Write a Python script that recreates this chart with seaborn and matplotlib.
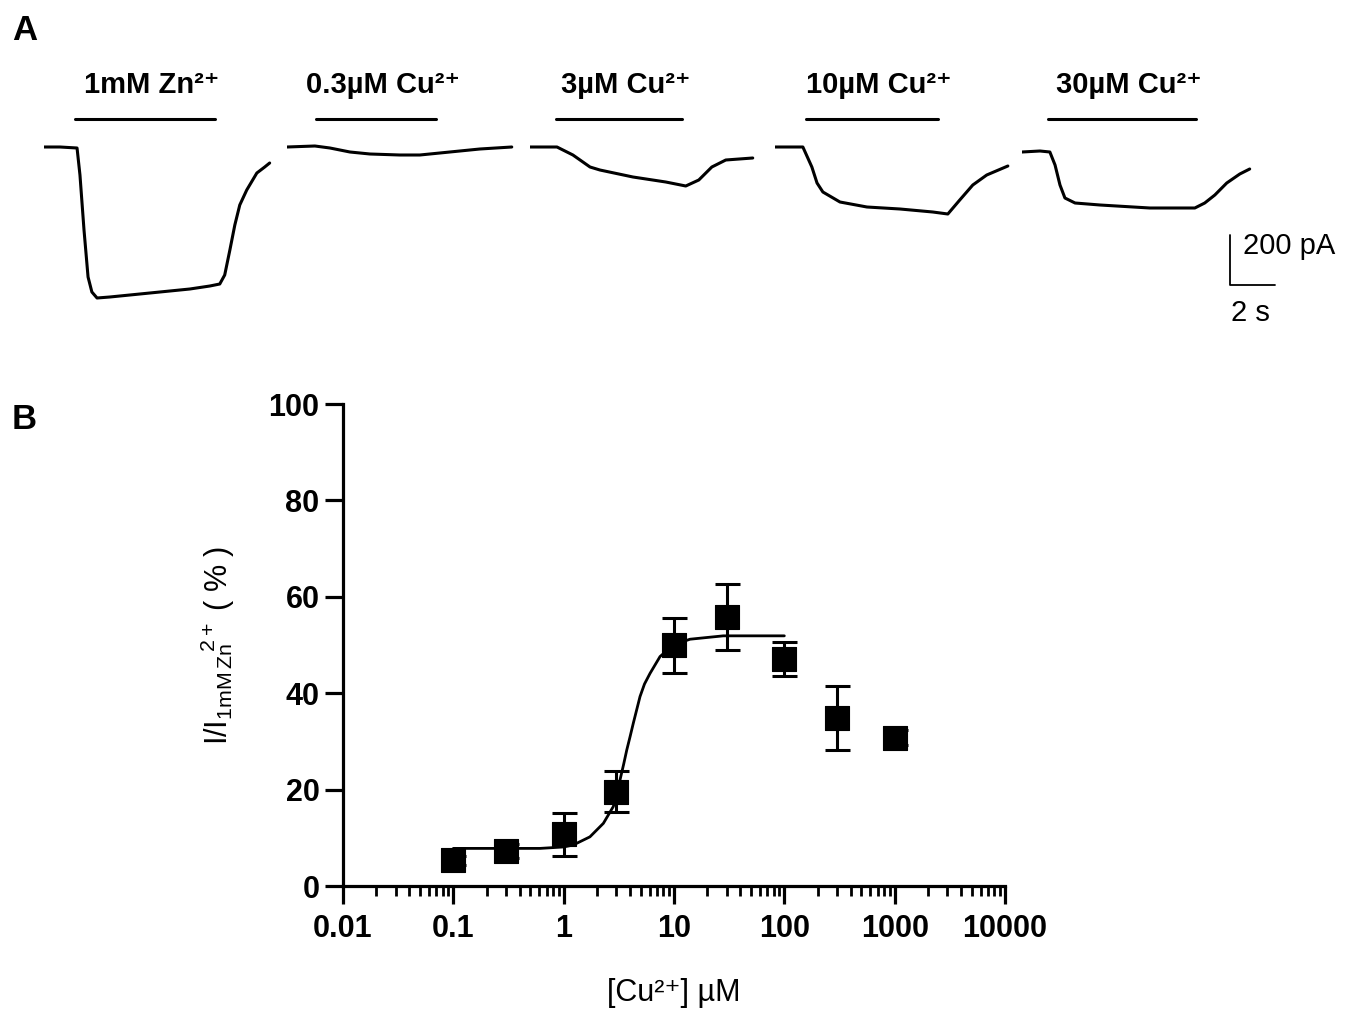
import numpy as np
import matplotlib
matplotlib.use("Agg")
import matplotlib.pyplot as plt
import seaborn as sns
from matplotlib.ticker import FixedLocator, LogLocator, NullFormatter

# ---------------- data ----------------
# panel A: current traces (time in s from trace start, current in pA from baseline)
trace_labels = ["1mM Zn²⁺", "0.3µM Cu²⁺", "3µM Cu²⁺", "10µM Cu²⁺", "30µM Cu²⁺"]

t_zn = [0, 0.71, 1.47, 1.6, 1.78, 1.96, 2.13, 2.36, 2.93, 3.82, 4.71, 5.6, 6.49, 7.38,
        7.82, 8.04, 8.27, 8.49, 8.71, 9.02, 9.47, 9.82, 10.04]
i_zn = [0, 0, -4, -112, -332, -520, -580, -604, -600, -592, -584, -576, -568, -556,
        -548, -512, -412, -312, -232, -172, -104, -80, -64]

t_cu03 = [0, 1.24, 1.91, 2.8, 3.69, 5.02, 5.91, 6.8, 7.69, 8.58, 10.0]
i_cu03 = [0, 4, -4, -20, -28, -32, -32, -24, -16, -8, 0]

t_cu3 = [0, 1.2, 1.91, 2.67, 3.11, 4.58, 6.04, 6.93, 7.51, 8.09, 8.71, 9.91]
i_cu3 = [0, 0, -32, -80, -92, -120, -140, -156, -132, -80, -52, -44]

t_cu10 = [0, 1.24, 1.64, 1.87, 2.13, 2.89, 4.09, 5.56, 7.02, 7.69, 8.22, 8.8, 9.42, 10.36]
i_cu10 = [0, 0, -80, -144, -180, -220, -240, -248, -260, -268, -212, -152, -112, -76]

t_cu30 = [0, 0.8, 1.24, 1.47, 1.69, 1.91, 2.36, 3.47, 5.69, 7.69, 8.13, 8.58, 9.11, 9.69, 10.13]
i_cu30 = [-20, -16, -20, -72, -152, -204, -224, -232, -244, -244, -224, -192, -144, -108, -88]

traces_t = [t_zn, t_cu03, t_cu3, t_cu10, t_cu30]
traces_i = [i_zn, i_cu03, i_cu3, i_cu10, i_cu30]

# application bars (s)
bar_start = [1.38, 1.29, 1.16, 1.38, 1.16]
bar_end = [7.6, 6.62, 6.76, 7.24, 7.73]

# panel B: concentration-response
conc = [0.1, 0.3, 1, 3, 10, 30, 100, 300, 1000]
resp = [5.3, 7.3, 10.7, 19.6, 49.9, 55.8, 47.1, 34.9, 30.8]
sem = [1.0, 1.5, 4.4, 4.3, 5.8, 6.8, 3.5, 6.6, 1.5]

# fitted curve
fit_x = [0.1, 0.3, 0.61, 1.0, 1.22, 1.73, 2.29, 2.82, 3.24, 3.5, 3.73, 4.0, 4.28, 4.92,
         5.4, 6.06, 7.47, 9.86, 13.96, 28, 100]
fit_y = [7.8, 7.8, 7.8, 8.1, 8.5, 10.2, 13.0, 16.5, 22.0, 25.3, 28.2, 31.0, 33.8, 39.3,
         41.9, 44.1, 47.6, 50.0, 51.2, 51.9, 51.9]

xtick_vals = [0.01, 0.1, 1, 10, 100, 1000, 10000]
xtick_labels = ["0.01", "0.1", "1", "10", "100", "1000", "10000"]
ytick_vals = [0, 20, 40, 60, 80, 100]

# ---------------- style ----------------
sns.set_style("ticks")
plt.rcParams["font.family"] = ["Liberation Sans", "DejaVu Sans"]
plt.rcParams["mathtext.fontset"] = "custom"
plt.rcParams["mathtext.rm"] = "Liberation Sans"
plt.rcParams["mathtext.it"] = "Liberation Sans:italic"
plt.rcParams["mathtext.bf"] = "Liberation Sans:bold"
plt.rcParams["mathtext.sf"] = "Liberation Sans"
for key in ["text.color", "axes.labelcolor", "xtick.color", "ytick.color", "axes.edgecolor"]:
    plt.rcParams[key] = "black"

W, H = 1368, 1015
fig = plt.figure(figsize=(W / 100, H / 100), dpi=100)

# ---------------- panel A ----------------
trace_left_px = [44, 287, 530, 775, 1022]
ax_w = 236 / W
ax_h = 225 / H
ax_b = 1 - 322 / H
for k in range(5):
    ax = fig.add_axes([trace_left_px[k] / W, ax_b, ax_w, ax_h])
    sns.lineplot(x=traces_t[k], y=traces_i[k], ax=ax, color="black", linewidth=2.2,
                 sort=False, estimator=None)
    ax.set_xlim(0, 10.5)
    ax.set_ylim(-700, 200)
    ax.axis("off")
    # drug application bar + label
    ax.plot([bar_start[k], bar_end[k]], [110, 110], color="black", linewidth=2.2,
            clip_on=False)
    ax.text((bar_start[k] + bar_end[k]) / 2 + 0.3, 248, trace_labels[k], ha="center",
            va="center", fontsize=21, fontweight="bold", clip_on=False)
    if k == 4:
        # scale bar: 2 s, 200 pA
        ax.plot([9.24, 9.24, 11.24], [-352, -552, -552], color="black", linewidth=1.3,
                clip_on=False)
        ax.text(9.85, -395, "200 pA", ha="left", va="center", fontsize=21, clip_on=False)
        ax.text(9.3, -665, "2 s", ha="left", va="center", fontsize=21, clip_on=False)

fig.text(12 / W, 1 - 30 / H, "A", fontsize=25, fontweight="bold", va="center")
fig.text(12 / W, 1 - 420 / H, "B", fontsize=25, fontweight="bold", va="center")

# ---------------- panel B ----------------
axb = fig.add_axes([343 / W, 1 - 886 / H, 662 / W, 482 / H])
axb.set_xscale("log")
sns.lineplot(x=fit_x, y=fit_y, ax=axb, color="black", linewidth=2.0, sort=False,
             estimator=None, zorder=2)
axb.errorbar(conc, resp, yerr=sem, fmt="none", ecolor="black", elinewidth=2.2,
             capsize=9, capthick=2.2, zorder=3)
sns.scatterplot(x=conc, y=resp, ax=axb, marker="s", s=300, color="black",
                edgecolor="black", linewidth=0.8, zorder=4)

axb.set_xlim(0.01, 10000)
axb.set_ylim(0, 100)
axb.xaxis.set_major_locator(FixedLocator(xtick_vals))
axb.set_xticklabels(xtick_labels)
axb.xaxis.set_minor_locator(LogLocator(base=10, subs=np.arange(2, 10), numticks=20))
axb.xaxis.set_minor_formatter(NullFormatter())
axb.set_yticks(ytick_vals)

sns.despine(ax=axb)
for side in ["left", "bottom"]:
    axb.spines[side].set_linewidth(2.3)
axb.tick_params(axis="both", which="major", length=13, width=2.3, labelsize=22,
                direction="out", color="black")
axb.tick_params(axis="x", which="major", pad=7)
axb.tick_params(axis="y", which="major", pad=4)
axb.tick_params(axis="x", which="minor", length=7, width=2.0, direction="out",
                color="black")
for lab in axb.get_xticklabels() + axb.get_yticklabels():
    lab.set_fontweight("bold")

axb.set_xlabel("[Cu²⁺] µM", fontsize=22)
axb.xaxis.set_label_coords(0.5, -0.19)
axb.xaxis.label.set_va("top")
axb.set_ylabel(r"I/I$_{\mathregular{1mM\,Zn}}\!\!{}^{\mathregular{2+}}$ ( % )", fontsize=22)
axb.yaxis.set_label_coords(-0.16, 0.5)

plt.savefig("out.png", dpi=100)
